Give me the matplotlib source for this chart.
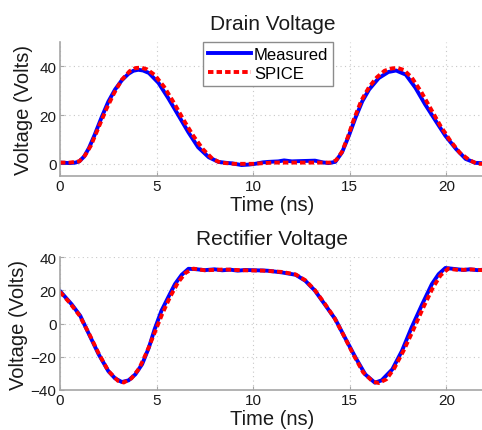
import numpy as np
import matplotlib
matplotlib.use('Agg')
import matplotlib.pyplot as plt

plt.rcParams['font.family'] = ['Liberation Sans', 'DejaVu Sans']

# drain voltage, measured
t_dm = [0, 0.5, 0.8, 1.0, 1.25, 1.5, 1.8, 2.15, 2.5, 2.85, 3.2, 3.55, 3.8, 4.05, 4.3, 4.6,
        5.1, 5.6, 6.1, 6.65, 7.15, 7.7, 8.2, 8.6, 8.9, 9.4, 9.8, 10.1, 10.5, 10.8, 11.3,
        11.6, 12.0, 12.35, 12.8, 13.2, 13.6, 13.9, 14.25, 14.6, 14.95, 15.3, 15.65, 16.0,
        16.5, 17.0, 17.4, 17.9, 18.4, 18.9, 19.45, 19.95, 20.5, 21.0, 21.5, 22.0]
v_dm = [0.5, 0.3, 0.5, 1, 3, 6.5, 12, 19, 25.5, 30.5, 34.3, 37, 38.2, 38.6, 38.3, 37.3,
        33.2, 27, 20.3, 12.9, 6.8, 2.7, 0.8, 0.4, 0.2, -0.5, -0.3, 0, 0.6, 0.8, 1.0,
        1.4, 1.0, 1.1, 1.2, 1.3, 0.6, 0.3, 0.8, 4.7, 11.5, 19, 25.7, 30.5,
        35.2, 37.7, 38.3, 36.6, 31.2, 24.4, 17.6, 11.5, 6.1, 2, 0.4, 0.2]

# drain voltage, SPICE
t_ds = [0, 0.5, 1.0, 1.3, 1.6, 2.0, 2.4, 2.8, 3.2, 3.6, 3.9, 4.2, 4.5, 4.9, 5.4, 5.9,
        6.4, 6.9, 7.4, 7.9, 8.3, 9, 10, 11, 12, 13, 14, 14.3, 14.6, 14.9, 15.2, 15.6,
        16.0, 16.4, 16.8, 17.2, 17.5, 17.8, 18.2, 18.7, 19.2, 19.7, 20.2, 20.7, 21.2,
        21.6, 22.0]
v_ds = [0.5, 0.5, 1, 3.5, 7.5, 15, 22.5, 29, 34.5, 38, 39.3, 39.5, 38.8, 36.5, 31.5, 25,
        18, 11.5, 6, 2, 0.5, 0, 0, 0.5, 0.5, 0.5, 0.5, 1.5, 5, 11, 18, 26,
        31.5, 35.5, 38.2, 39.2, 39.3, 38.5, 35.5, 29.5, 22.5, 15.5, 9.5, 4.5, 1.5,
        0, 0]

# rectifier voltage, measured
t_rm = [0, 0.6, 1.05, 1.5, 2.0, 2.5, 2.85, 3.2, 3.55, 3.9, 4.25, 4.6, 4.9, 5.25, 5.6,
        5.95, 6.3, 6.65, 7.0, 7.5, 8.0, 8.4, 8.8, 9.2, 9.6, 10.1, 10.5, 10.8, 11.5, 12.2,
        12.7, 13.2, 13.7, 14.25, 14.75, 15.3, 15.8, 16.3, 16.65, 17.2, 17.7, 18.2, 18.75,
        19.25, 19.6, 19.95, 20.5, 20.9, 21.2, 21.6, 22.0]
v_rm = [19.5, 11.6, 4.6, -6.4, -18.5, -28.6, -33, -35.2, -34.2, -30.6, -24.5, -14.5, -3.4, 7.6, 15.7,
        23.7, 29.3, 32.9, 32.7, 32.1, 32.6, 32.0, 32.4, 31.8, 32.2, 32, 31.9, 31.7, 30.7, 29.3,
        25.7, 19.7, 11.6, 2.6, -8.5, -20.5, -30.6, -35.6, -34.2, -27.6, -16.5, -2.4, 11.6,
        23.7, 29.7, 33.4, 32.7, 32.2, 32.6, 32.1, 32.4]

# rectifier voltage, SPICE
t_rs = [0, 0.5, 1.0, 1.5, 2.0, 2.5, 3.0, 3.3, 3.7, 4.1, 4.5, 4.9, 5.3, 5.7, 6.1, 6.5, 6.9,
        7.5, 8.5, 9.5, 10.5, 11.5, 12.2, 12.7, 13.2, 13.7, 14.2, 14.7, 15.2, 15.7, 16.2,
        16.5, 16.9, 17.3, 17.8, 18.3, 18.8, 19.3, 19.7, 20.1, 20.6, 21.3, 22.0]
v_rs = [19, 12.5, 5, -6, -18, -28.5, -34.5, -35.5, -33, -27, -17, -5.5, 6, 16, 24.5, 30.5, 33,
        32, 32.5, 32, 31.8, 31, 29.5, 26, 20, 12, 3.5, -7.5, -19, -29.5, -35,
        -35.8, -33.5, -27, -16, -3.5, 9.5, 21.5, 29, 33, 32.2, 32.5, 32]

x_ticks = [0, 5, 10, 15, 20]

W, H = 482, 431
fig = plt.figure(figsize=(W / 100, H / 100), dpi=100)

# axes boxes in pixels
ax1 = fig.add_axes([60 / W, 1 - 177 / H, 425 / W, 134 / H])
ax2 = fig.add_axes([60 / W, 1 - 391 / H, 425 / W, 133 / H])

spine_col = '#a6a6a6'
grid_col = '#c8c8c8'
txt_col = '#1a1a1a'
dash = (0, (1.4, 0.8))


def style(ax, yticks, ylim, title, ylab_x):
    ax.set_xlim(0, 22)
    ax.set_ylim(*ylim)
    ax.set_xticks(x_ticks)
    ax.set_yticks(yticks)
    ax.set_yticklabels([str(v).replace('-', '\u2212') for v in yticks])
    for s in ['top', 'right']:
        ax.spines[s].set_visible(False)
    for s in ['left', 'bottom']:
        ax.spines[s].set_color(spine_col)
        ax.spines[s].set_linewidth(1.2)
    ax.tick_params(direction='in', length=3, color=spine_col, labelsize=11,
                   labelcolor=txt_col, pad=2.5)
    ax.grid(True, color=grid_col, linestyle=(0, (1, 3)), linewidth=0.8)
    ax.set_axisbelow(True)
    ax.set_title(title, fontsize=15, color=txt_col, pad=9)
    ax.set_xlabel('Time (ns)', fontsize=14.5, color=txt_col, labelpad=1)
    ax.set_ylabel('Voltage (Volts)', fontsize=14.5, color=txt_col)
    ax.yaxis.set_label_coords(ylab_x, 0.5)


ax1.plot(t_dm, v_dm, color='#0000ff', lw=2.8, label='Measured', solid_joinstyle='round')
ax1.plot(t_ds, v_ds, color='#ff0000', lw=2.8, ls=dash, label='SPICE')
style(ax1, [0, 20, 40], (-5, 50), 'Drain Voltage', -0.064)
leg = ax1.legend(loc='upper center', bbox_to_anchor=(0.49, 1.0), fontsize=12,
                 handlelength=2.6, handletextpad=0.15, labelspacing=0.25,
                 borderpad=0.3, borderaxespad=0, fancybox=False, framealpha=1)
leg.get_frame().set_edgecolor('#8c8c8c')
leg.get_frame().set_linewidth(1.0)

ax2.plot(t_rm, v_rm, color='#0000ff', lw=2.8, solid_joinstyle='round')
ax2.plot(t_rs, v_rs, color='#ff0000', lw=2.8, ls=dash)
style(ax2, [-40, -20, 0, 20, 40], (-40, 40), 'Rectifier Voltage', -0.076)

fig.savefig('out.png', dpi=100)
